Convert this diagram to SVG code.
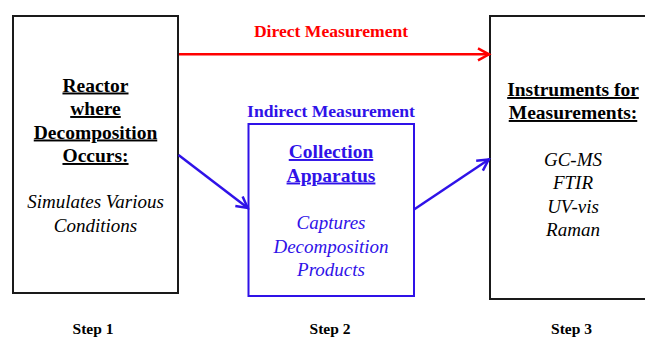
<svg xmlns="http://www.w3.org/2000/svg" width="645" height="340" viewBox="0 0 645 340">
<style>
text{text-anchor:middle}
.h{font-weight:bold;font-size:19.5px;text-decoration:underline}
.i{font-style:italic;font-size:19px}
.lbl{font-weight:bold;font-size:17.6px}
.step{font-weight:bold;font-size:15.5px;fill:#000}
.box{fill:#fff;stroke:#1a1a1a;stroke-width:2}
.bbox{fill:#fff;stroke:#2f12e8;stroke-width:2}
.blue{fill:#2f12e8}
.red{fill:#ff0000}
.cr{stroke:#ff0000;stroke-width:2.5;fill:none}
.cb{stroke:#2f12e8;stroke-width:2.5;fill:none}
</style>
<defs>
<marker id="arR" viewBox="-16 -9 18 18" refX="0" refY="0" markerWidth="18" markerHeight="18" markerUnits="userSpaceOnUse" orient="auto">
<path d="M-12,-6 L-1,0 L-12,6" fill="none" stroke="#ff0000" stroke-width="2.5"/>
</marker>
<marker id="arB" viewBox="-16 -9 18 18" refX="0" refY="0" markerWidth="18" markerHeight="18" markerUnits="userSpaceOnUse" orient="auto">
<path d="M-12,-6 L-1,0 L-12,6" fill="none" stroke="#2f12e8" stroke-width="2.5"/>
</marker>
</defs>
<rect width="645" height="340" fill="#fff"/>
<g font-family="'Liberation Serif', Tinos, 'Times New Roman', serif">
<g id="reactor">
<rect class="box" x="13" y="16" width="165" height="277"/>
<text class="h" x="95.5" y="91.5">Reactor</text>
<text class="h" x="95.5" y="115">where</text>
<text class="h" x="95.5" y="138.5">Decomposition</text>
<text class="h" x="95.5" y="162">Occurs:</text>
<text class="i" x="95.5" y="208">Simulates Various</text>
<text class="i" x="95.5" y="232">Conditions</text>
</g>
<g id="collection">
<rect class="bbox" x="248.5" y="124" width="165.5" height="172"/>
<text class="h blue" x="331" y="158">Collection</text>
<text class="h blue" x="331" y="181.5">Apparatus</text>
<text class="i blue" x="331" y="229">Captures</text>
<text class="i blue" x="331" y="252.5">Decomposition</text>
<text class="i blue" x="331" y="276">Products</text>
</g>
<g id="instruments">
<rect class="box" x="490" y="16" width="170" height="283"/>
<text class="h" x="573" y="96">Instruments for</text>
<text class="h" x="573" y="119">Measurements:</text>
<text class="i" x="573" y="165.5">GC-MS</text>
<text class="i" x="573" y="189">FTIR</text>
<text class="i" x="573" y="212.5">UV-vis</text>
<text class="i" x="573" y="236">Raman</text>
</g>
<g id="connectors">
<line class="cr" x1="179" y1="54.3" x2="490" y2="54.3" marker-end="url(#arR)"/>
<text class="lbl red" x="331" y="37">Direct Measurement</text>
<line class="cb" x1="178.5" y1="155" x2="248.5" y2="208.5" marker-end="url(#arB)"/>
<line class="cb" x1="414" y1="209.5" x2="489.5" y2="159" marker-end="url(#arB)"/>
<text class="lbl blue" x="331" y="116.5">Indirect Measurement</text>
</g>
<g id="steps">
<text class="step" x="93" y="334">Step 1</text>
<text class="step" x="330" y="334">Step 2</text>
<text class="step" x="571.5" y="334">Step 3</text>
</g>
</g>
</svg>
